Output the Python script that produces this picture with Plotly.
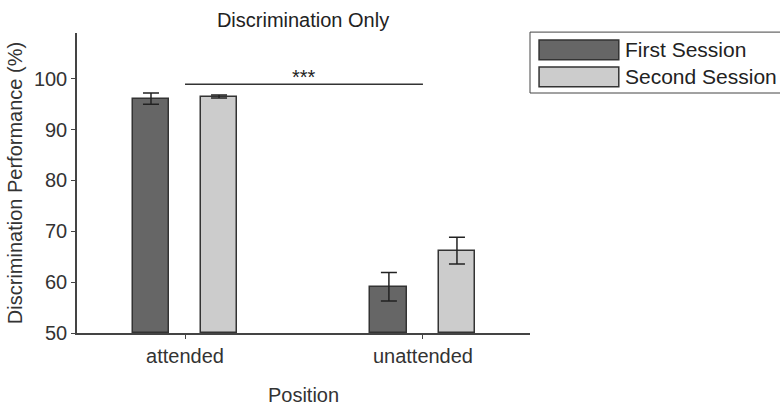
import plotly.graph_objects as go

positions = ["attended", "unattended"]
sessions = ["First Session", "Second Session"]
first_mean = [96.1, 59.1]
first_err = [1.1, 2.8]
second_mean = [96.5, 66.2]
second_err = [0.3, 2.65]
sig_y = 98.9
sig_label = "***"

colors = ["#666666", "#cccccc"]
edge = "#333333"
font = "Liberation Sans, Arial, sans-serif"
txt = "#333333"

cat_x = list(range(len(positions)))
offset = 0.143
bw = 0.155

fig = go.Figure()
for i, (means, errs) in enumerate([(first_mean, first_err), (second_mean, second_err)]):
    xs = [c + (-offset if i == 0 else offset) for c in cat_x]
    fig.add_trace(go.Bar(
        x=xs, y=[m - 50 for m in means], base=50, width=bw,
        name=sessions[i], showlegend=False,
        marker=dict(color=colors[i], line=dict(color=edge, width=1.5)),
        error_y=dict(type="data", array=errs, color="#222222", thickness=1.5, width=8),
    ))

# significance bracket between the two positions
fig.add_shape(type="line", x0=cat_x[0], x1=cat_x[1], y0=sig_y, y1=sig_y,
              line=dict(color="#333333", width=1.5))
fig.add_annotation(x=(cat_x[0] + cat_x[1]) / 2, y=sig_y, text=sig_label, showarrow=False,
                   yanchor="bottom", yshift=-6, font=dict(size=20, color="#222222", family=font))

# legend box drawn in paper space
fig.add_shape(type="rect", xref="paper", yref="paper", x0=1.0, x1=1.555, y0=0.80, y1=1.003,
              line=dict(color="#444444", width=1), fillcolor="white")
for i, s in enumerate(sessions):
    ytop = 0.977 - i * 0.09
    fig.add_shape(type="rect", xref="paper", yref="paper", x0=1.02, x1=1.196,
                  y0=ytop - 0.066, y1=ytop, fillcolor=colors[i], line=dict(color=edge, width=1.5))
    fig.add_annotation(xref="paper", yref="paper", x=1.205, y=ytop - 0.033, text=s,
                       showarrow=False, xanchor="left", yanchor="middle",
                       font=dict(size=21, color="#222222", family=font))

fig.update_layout(
    width=780, height=409,
    margin=dict(l=77, r=250, t=33, b=76),
    plot_bgcolor="white", paper_bgcolor="white",
    bargap=0,
    font=dict(family=font, color=txt, size=21),
    title=dict(text="Discrimination Only", x=0.3885, xanchor="center", y=0.95, yanchor="middle",
               font=dict(size=20, color="#222222", family=font)),
)
fig.update_xaxes(
    range=[-0.454, 1.45], tickvals=cat_x, ticktext=positions, automargin=False,
    showline=True, linecolor="#444444", linewidth=1.5, ticks="outside", ticklen=4,
    tickcolor="#444444", showgrid=False, zeroline=False,
    title=dict(text="Position", font=dict(size=20), standoff=22),
    tickfont=dict(size=20),
)
fig.update_yaxes(
    range=[50, 109], tickvals=[50, 60, 70, 80, 90, 100], automargin=False,
    showline=True, linecolor="#444444", linewidth=1.5, ticks="outside", ticklen=4,
    tickcolor="#444444", showgrid=False, zeroline=False,
    title=dict(text="Discrimination Performance (%)", font=dict(size=20), standoff=6),
    tickfont=dict(size=20),
)

fig.write_html("out.html")
